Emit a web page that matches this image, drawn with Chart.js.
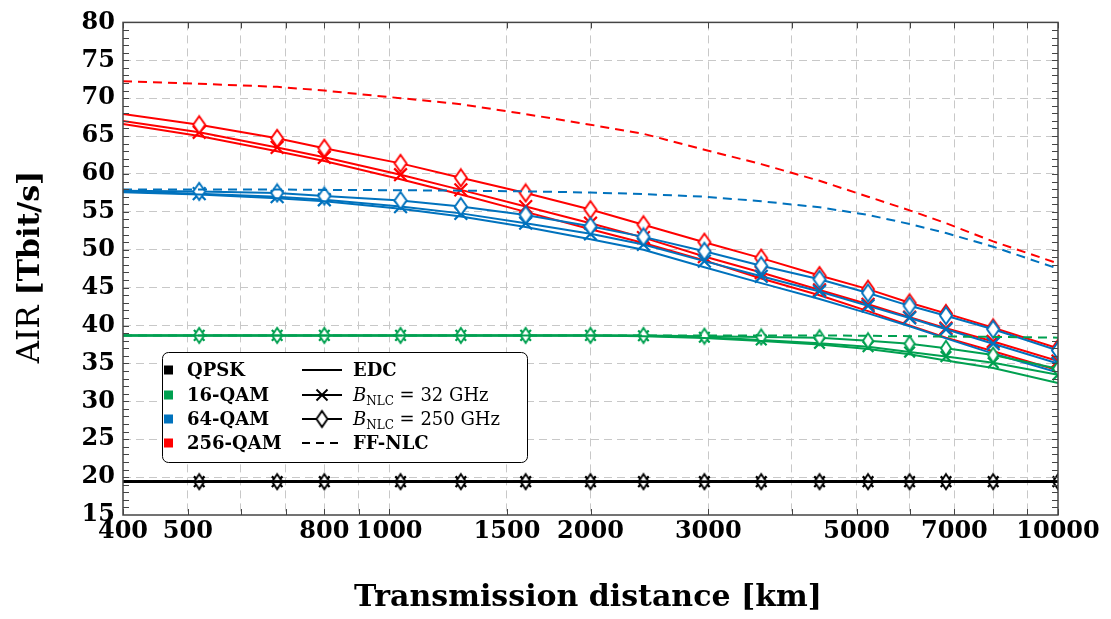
<!DOCTYPE html>
<html>
<head>
<meta charset="utf-8">
<title>AIR vs transmission distance</title>
<script src="https://cdn.jsdelivr.net/npm/chart.js@4.4.1/dist/chart.umd.min.js"></script>
<style>
  html, body { margin: 0; padding: 0; background: #fff; }
  canvas { display: block; }
</style>
</head>
<body>
<canvas id="air" width="1111" height="619"></canvas>
<script>
// transmission distance [km], same points for every curve
const distances = [400, 520, 680, 800, 1040, 1280, 1600, 2000, 2400, 2960, 3600, 4400, 5200, 6000, 6800, 8000, 10000];

// AIR [Tbit/s]
const qpsk = [19.4, 19.4, 19.4, 19.4, 19.4, 19.4, 19.4, 19.4, 19.4, 19.4, 19.4, 19.4, 19.4, 19.4, 19.4, 19.4, 19.4];

const qam16Edc = [38.7, 38.7, 38.7, 38.7, 38.7, 38.7, 38.7, 38.7, 38.6, 38.35, 37.95, 37.5, 36.9, 36.2, 35.4, 34.4, 32.4];
const qam16Nlc32 = [38.7, 38.7, 38.7, 38.7, 38.7, 38.7, 38.7, 38.7, 38.65, 38.45, 38.1, 37.65, 37.2, 36.5, 35.9, 35.1, 33.5];
const qam16Nlc250 = [38.7, 38.7, 38.7, 38.7, 38.7, 38.7, 38.7, 38.7, 38.7, 38.6, 38.5, 38.4, 38.0, 37.6, 37.0, 36.1, 34.3];
const qam16Ff = [38.7, 38.7, 38.7, 38.7, 38.7, 38.7, 38.7, 38.7, 38.7, 38.7, 38.7, 38.7, 38.65, 38.6, 38.55, 38.5, 38.4];

const qam64Edc = [57.6, 57.3, 56.8, 56.4, 55.4, 54.4, 53.0, 51.4, 50.0, 47.7, 45.6, 43.5, 41.6, 39.9, 38.3, 36.3, 33.8];
const qam64Nlc32 = [57.7, 57.4, 57.0, 56.6, 55.7, 54.8, 53.5, 52.1, 50.7, 48.5, 46.5, 44.5, 42.6, 41.0, 39.5, 37.6, 35.0];
const qam64Nlc250 = [57.8, 57.7, 57.5, 57.1, 56.5, 55.7, 54.6, 53.1, 51.7, 49.8, 47.9, 46.1, 44.3, 42.6, 41.3, 39.5, 36.7];
const qam64Ff = [57.95, 57.95, 57.95, 57.9, 57.85, 57.8, 57.7, 57.55, 57.35, 57.0, 56.4, 55.6, 54.6, 53.4, 52.2, 50.4, 47.5];

const qam256Edc = [66.6, 65.0, 63.0, 61.7, 59.3, 57.3, 55.0, 52.7, 50.9, 48.6, 46.2, 44.0, 41.9, 40.0, 38.4, 36.6, 34.1];
const qam256Nlc32 = [67.0, 65.5, 63.5, 62.2, 59.9, 57.9, 55.7, 53.5, 51.6, 49.1, 47.0, 44.7, 42.8, 41.1, 39.65, 37.9, 35.3];
const qam256Nlc250 = [67.9, 66.5, 64.7, 63.4, 61.4, 59.5, 57.5, 55.3, 53.3, 51.0, 48.9, 46.6, 44.8, 43.0, 41.6, 39.7, 37.0];
const qam256Ff = [72.25, 71.9, 71.5, 71.0, 70.0, 69.2, 67.9, 66.5, 65.3, 63.2, 61.3, 59.1, 57.0, 55.2, 53.5, 51.1, 48.2];

// axes
const xGrid = [400, 500, 600, 700, 800, 900, 1000, 1500, 2000, 3000, 4000, 5000, 6000, 7000, 8000, 9000, 10000];
const xLabels = [400, 500, 800, 1000, 1500, 2000, 3000, 5000, 7000, 10000];
const yMin = 15, yMax = 80, yStep = 5;

const formats = ['QPSK', '16-QAM', '64-QAM', '256-QAM'];

const BLACK = '#000000';
const GREEN = '#00a050';
const BLUE = '#0072bd';
const RED = '#ff0000';
const SERIF = '"DejaVu Serif", "Liberation Serif", serif';

function pts(vals) {
  return distances.map((d, i) => ({ x: d, y: vals[i] }));
}

function diamond(color, w, h) {
  const c = document.createElement('canvas');
  c.width = w + 4; c.height = h + 4;
  const g = c.getContext('2d');
  g.translate(c.width / 2, c.height / 2);
  g.beginPath();
  g.moveTo(0, -h / 2); g.lineTo(w / 2, 0); g.lineTo(0, h / 2); g.lineTo(-w / 2, 0);
  g.closePath();
  g.fillStyle = '#fff'; g.fill();
  g.lineWidth = 1.9; g.strokeStyle = color; g.stroke();
  return c;
}

function noFirst(r) {
  return (c) => c.dataIndex === 0 ? 0 : r;
}

// kind: 'ff' dashed, 'edc' plain, 'x' cross marks, 'd' diamond marks
function ds(vals, color, kind, small) {
  const o = {
    data: pts(vals),
    borderColor: color,
    backgroundColor: color,
    borderWidth: color === BLACK ? 2.6 : 2,
    pointRadius: 0,
    tension: 0,
    fill: false
  };
  if (kind === 'ff') { o.borderDash = [9, 6]; }
  if (kind === 'x') {
    o.pointStyle = 'crossRot';
    o.pointRadius = noFirst(small ? 7.5 : 9);
    o.pointBorderWidth = 2.2;
    o.pointBorderColor = color;
  }
  if (kind === 'd') {
    o.pointStyle = small ? diamond(color, 10, 15) : diamond(color, 12, 17);
    o.pointRadius = noFirst(5);
  }
  return o;
}

const datasets = [
  ds(qpsk, BLACK, 'ff', true), ds(qpsk, BLACK, 'edc', true), ds(qpsk, BLACK, 'd', true), ds(qpsk, BLACK, 'x', true),
  ds(qam16Ff, GREEN, 'ff', true), ds(qam16Edc, GREEN, 'edc', true), ds(qam16Nlc250, GREEN, 'd', true), ds(qam16Nlc32, GREEN, 'x', true),
  ds(qam64Ff, BLUE, 'ff'), ds(qam64Edc, BLUE, 'edc'), ds(qam64Nlc250, BLUE, 'd'), ds(qam64Nlc32, BLUE, 'x'),
  ds(qam256Ff, RED, 'ff'), ds(qam256Edc, RED, 'edc'), ds(qam256Nlc250, RED, 'd'), ds(qam256Nlc32, RED, 'x')
];

function seg(c, x1, y1, x2, y2) {
  c.beginPath(); c.moveTo(x1, y1); c.lineTo(x2, y2); c.stroke();
}

// frame, inner ticks, axis titles and the legend box
const decor = {
  id: 'decor',
  afterDraw(chart) {
    const c = chart.ctx, a = chart.chartArea;
    const xs = chart.scales.x, ys = chart.scales.y;
    c.save();
    c.strokeStyle = '#444'; c.lineWidth = 1;
    for (let v = yMin + 1; v < yMax; v++) {
      const py = Math.round(ys.getPixelForValue(v)) + 0.5;
      seg(c, a.left, py, a.left + 6, py);
      seg(c, a.right - 6, py, a.right, py);
    }
    xGrid.forEach(v => {
      const px = Math.round(xs.getPixelForValue(v)) + 0.5;
      seg(c, px, a.bottom, px, a.bottom - 6);
      seg(c, px, a.top, px, a.top + 6);
    });
    c.lineWidth = 1.5;
    c.strokeRect(a.left, a.top, a.right - a.left, a.bottom - a.top);

    // axis titles
    c.fillStyle = '#000';
    c.textBaseline = 'middle';
    c.textAlign = 'center';
    c.font = 'bold 30px ' + SERIF;
    c.fillText('Transmission distance [km]', 588, 598);

    c.save();
    c.translate(31, 267);
    c.rotate(-Math.PI / 2);
    c.textAlign = 'left';
    c.font = '31px ' + SERIF;
    const w1 = c.measureText('AIR ').width;
    c.font = 'bold 30px ' + SERIF;
    const w2 = c.measureText('[Tbit/s]').width;
    let sx = -(w1 + w2) / 2;
    c.font = '31px ' + SERIF;
    c.fillText('AIR ', sx, 0);
    c.font = 'bold 30px ' + SERIF;
    c.fillText('[Tbit/s]', sx + w1, 0);
    c.restore();

    // legend
    const lx = 162.5, ly = 352.5, lw = 365, lh = 110;
    c.beginPath();
    c.roundRect(lx, ly, lw, lh, 6);
    c.fillStyle = '#fff'; c.fill();
    c.strokeStyle = '#000'; c.lineWidth = 1; c.stroke();

    const rows = [370, 395, 419, 443];
    const colors = [BLACK, GREEN, BLUE, RED];
    c.textAlign = 'left';
    rows.forEach((ry, i) => {
      c.fillStyle = colors[i];
      c.fillRect(164, ry - 4.5, 9, 9);
      c.fillStyle = '#000';
      c.font = 'bold 18px ' + SERIF;
      c.fillText(formats[i], 187, ry + 1);
    });

    c.strokeStyle = '#000'; c.lineWidth = 2;
    seg(c, 302, rows[0], 342, rows[0]);
    seg(c, 302, rows[1], 342, rows[1]);
    seg(c, 322 - 5.5, rows[1] - 5.5, 322 + 5.5, rows[1] + 5.5);
    seg(c, 322 - 5.5, rows[1] + 5.5, 322 + 5.5, rows[1] - 5.5);
    seg(c, 302, rows[2], 342, rows[2]);
    c.drawImage(diamond('#000', 11, 16), 322 - 7.5, rows[2] - 10);
    c.setLineDash([8, 6]);
    seg(c, 302, rows[3], 342, rows[3]);
    c.setLineDash([]);

    c.fillStyle = '#000';
    c.font = 'bold 18px ' + SERIF;
    c.fillText('EDC', 353, rows[0] + 1);
    c.fillText('FF-NLC', 353, rows[3] + 1);
    [['32 GHz', rows[1]], ['250 GHz', rows[2]]].forEach(([txt, ry]) => {
      let tx = 353;
      c.font = 'italic 18px ' + SERIF;
      c.fillText('B', tx, ry + 1);
      tx += c.measureText('B').width;
      c.font = '12px ' + SERIF;
      c.fillText('NLC', tx, ry + 7);
      tx += c.measureText('NLC').width;
      c.font = '18px ' + SERIF;
      c.fillText(' = ' + txt, tx, ry + 1);
    });
    c.restore();
  }
};

const gridColor = '#c8c8c8';

new Chart(document.getElementById('air'), {
  type: 'line',
  data: { datasets: datasets },
  options: {
    responsive: false,
    animation: false,
    events: [],
    layout: { padding: { top: 18, right: 53, left: 0, bottom: 0 } },
    plugins: { legend: { display: false }, tooltip: { enabled: false } },
    scales: {
      x: {
        type: 'logarithmic',
        min: 400,
        max: 10000,
        afterBuildTicks: (scale) => { scale.ticks = xGrid.map(v => ({ value: v })); },
        afterFit: (scale) => { scale.height = 104; },
        ticks: {
          autoSkip: false,
          maxRotation: 0,
          minRotation: 0,
          padding: 2,
          color: '#000',
          font: { family: SERIF, size: 24, weight: 'bold' },
          callback: (v) => xLabels.includes(v) ? String(v) : ''
        },
        grid: {
          drawTicks: false,
          color: (c) => (c.tick && (c.tick.value === 400 || c.tick.value === 10000)) ? 'transparent' : gridColor,
          lineWidth: 1
        },
        border: { display: false, dash: [8, 5] }
      },
      y: {
        min: yMin,
        max: yMax,
        afterFit: (scale) => { scale.width = 123; },
        ticks: {
          stepSize: yStep,
          padding: 8,
          color: '#000',
          font: { family: SERIF, size: 24, weight: 'bold' }
        },
        grid: {
          drawTicks: false,
          color: (c) => (c.tick && (c.tick.value === yMin || c.tick.value === yMax)) ? 'transparent' : gridColor,
          lineWidth: 1
        },
        border: { display: false, dash: [8, 5] }
      }
    }
  },
  plugins: [decor]
});
</script>
</body>
</html>
